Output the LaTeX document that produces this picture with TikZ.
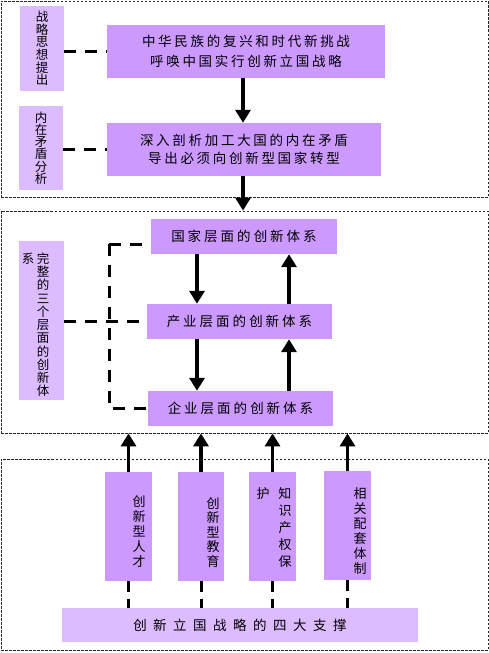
\documentclass[tikz,border=0pt]{standalone}
\usepackage{fontspec}
\newfontfamily\cjk{Noto Sans CJK SC}
\usetikzlibrary{arrows.meta}
\definecolor{boxc}{HTML}{CC99FF}
\definecolor{lightc}{HTML}{DDBBFF}
\makeatletter
\newcommand\myvcol[2]{\vtop{\baselineskip=#1\lineskiplimit=-50pt\lineskip=0pt\@tfor\ch:=#2\do{\hbox to 1em{\hss\ch\hss}}}}
\newcommand\myhsp[2]{\@tfor\ch:=#2\do{\ch\hskip#1}\unskip}
\makeatother
\begin{document}
\begin{tikzpicture}[x=1pt,y=-1pt,
  mbox/.style={fill=boxc,inner sep=0pt,font=\cjk\fontsize{13.5}{18}\selectfont,align=center},
  lbox/.style={fill=lightc,inner sep=0pt,font=\cjk\fontsize{12.5}{13}\selectfont},
  frame/.style={draw=black!85,line width=0.8pt,dash pattern=on 2.5pt off 1.5pt,inner sep=0pt},
  conn/.style={line width=3pt,dash pattern=on 12pt off 9pt},
  conntwo/.style={line width=3pt,dash pattern=on 11pt off 7pt},
  arr/.style={line width=3.5pt,-{Triangle[width=15pt,length=13pt]}},
  vtxt/.style={inner sep=0pt,font=\cjk\fontsize{13}{14}\selectfont},
  ltxt/.style={inner sep=0pt,font=\cjk\fontsize{12.5}{13}\selectfont}
]
\useasboundingbox (0,0) rectangle (489,653);
% frames
\node[frame,minimum width=487pt,minimum height=196pt] (f1) at (244.5,99) {};
\node[frame,minimum width=487pt,minimum height=222pt] (f2) at (244.5,322) {};
\node[frame,minimum width=487pt,minimum height=191pt] (f3) at (244.5,554.5) {};
% labels
\node[lbox,minimum width=44pt,minimum height=85pt] (l1) at (42,48.5) {\myvcol{12.6pt}{战略思想提出}};
\node[lbox,minimum width=44pt,minimum height=84pt] (l2) at (41,148) {\myvcol{12.2pt}{内在矛盾分析}};
\node[lbox,minimum width=45pt,minimum height=159pt] (l3) at (41.5,320.5) {};
\node[ltxt,anchor=north] (t3) at (35.5,252.5) {\myvcol{13.25pt}{系}\hskip2.5pt\myvcol{13.25pt}{完整的三个层面的创新体}};
% main boxes
\node[mbox,minimum width=278pt,minimum height=53pt] (b1) at (246,51.5) {\myhsp{2.7pt}{中华民族的复兴和时代新挑战}\\[2pt]\myhsp{2.7pt}{呼唤中国实行创新立国战略}};
\node[mbox,minimum width=274pt,minimum height=53pt] (b2) at (244,149.5) {\myhsp{2.7pt}{深入剖析加工大国的内在矛盾}\\\myhsp{2.7pt}{导出必须向创新型国家转型}};
\node[mbox,minimum width=186pt,minimum height=35pt] (gj) at (244,236.5) {\myhsp{3pt}{国家层面的创新体系}};
\node[mbox,minimum width=185pt,minimum height=35pt] (cy) at (239.5,321.5) {\myhsp{3pt}{产业层面的创新体系}};
\node[mbox,minimum width=185pt,minimum height=35pt] (qy) at (240.5,408.5) {\myhsp{3pt}{企业层面的创新体系}};
% bottom boxes
\node[mbox,minimum width=47pt,minimum height=109pt] (k1) at (128.5,526.5) {};
\node[mbox,minimum width=46pt,minimum height=109pt] (k2) at (201,526.5) {};
\node[mbox,minimum width=47pt,minimum height=109pt] (k3) at (272.5,526.5) {};
\node[mbox,minimum width=47pt,minimum height=109pt] (k4) at (347.5,525.5) {};
\node[vtxt] (tk1) at (139,531.5) {\myvcol{15pt}{创新型人才}};
\node[vtxt] (tk2) at (213,532.5) {\myvcol{14.5pt}{创新型教育}};
\node[vtxt,anchor=north] (tk3) at (274,487.5) {\myvcol{17pt}{护}\hskip9pt\myvcol{17pt}{知识产权保}};
\node[vtxt] (tk4) at (360,531) {\myvcol{15pt}{相关配套体制}};
\node[lbox,minimum width=356pt,minimum height=34pt,font=\cjk\fontsize{13.5}{16}\selectfont] (wide) at (240,625) {\myhsp{6.5pt}{创新立国战略的四大支撑}};
% arrows top
\coordinate (ax) at (243,0);
\draw[arr] (b1.south -| ax) -- (b2.north -| ax);
\draw[arr] (b2.south -| ax) -- (f2.north -| ax);
% middle arrows
\coordinate (xl) at (197,0);
\coordinate (xr) at (289,0);
\draw[arr] (gj.south -| xl) -- (cy.north -| xl);
\draw[arr] (cy.south -| xl) -- (qy.north -| xl);
\draw[arr] (cy.north -| xr) -- (gj.south -| xr);
\draw[arr] (qy.north -| xr) -- (cy.south -| xr);
% dashed connectors
\draw[conn] (l1.east |- b1.west) -- (b1.west);
\draw[conn] (l2.east |- b2.west) -- (b2.west);
\draw[conn] (l3.east |- cy.west) -- (cy.west);
\coordinate (bx) at (109,244);
\coordinate (gy) at (151,244);
\draw[conn] (bx) -- (gy);
\draw[conn] (bx) -- (bx |- qy.west) -- (qy.west);
% bottom arrows
\foreach \k in {k1,k2,k3,k4}{
  \draw[arr] (\k.north) -- (\k.north |- f2.south);
  \draw[conntwo] (\k.south) -- (\k.south |- wide.north);
}
\end{tikzpicture}
\end{document}
